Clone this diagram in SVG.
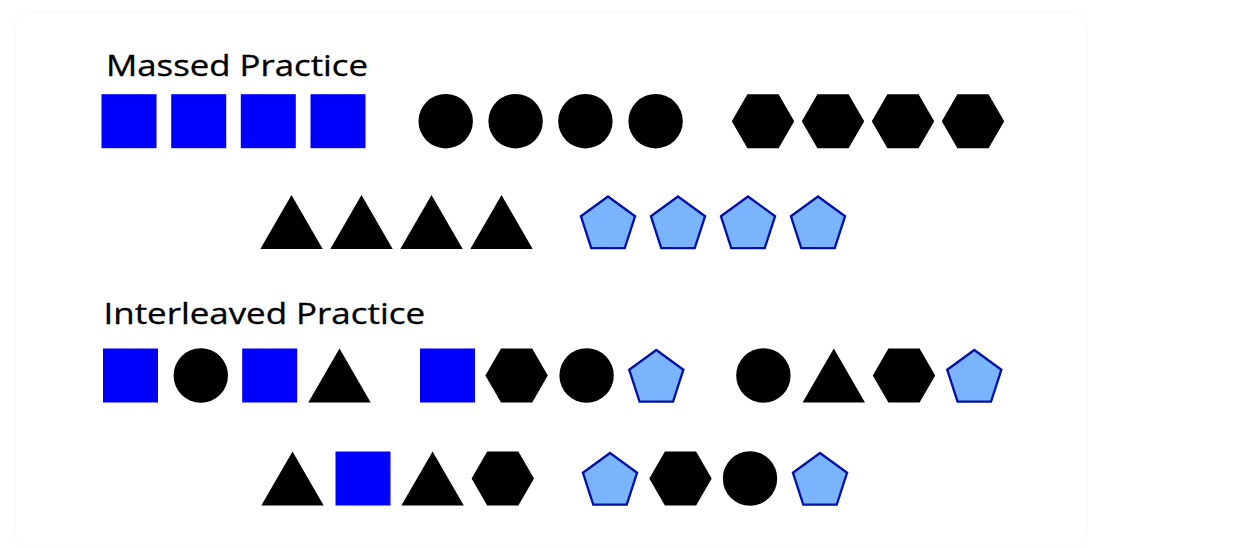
<svg xmlns="http://www.w3.org/2000/svg" xmlns:xlink="http://www.w3.org/1999/xlink" width="1258" height="548" viewBox="0 0 1258 548">
  <style>
    .title { font-family: "Open Sans", "Liberation Sans", sans-serif; font-size: 30px; fill: #000; stroke: #000; stroke-width: 0.35; }
    .sq { fill: #0000ff; }
    .blk { fill: #000000; }
    .pent { fill: #7ab4fc; stroke: #0010a8; stroke-width: 2.3; stroke-linejoin: miter; }
  </style>
  <defs>
    <rect id="square" class="sq" x="-27.5" y="-27" width="55" height="54"/>
    <circle id="circle" class="blk" r="27.2"/>
    <polygon id="hex" class="blk" points="-31.2,0 -15.6,-27 15.6,-27 31.2,0 15.6,27 -15.6,27"/>
    <polygon id="tri" class="blk" points="0,-27 31.2,27 -31.2,27"/>
    <polygon id="pent" class="pent" points="0,-28.5 27.1,-8.8 16.75,23.05 -16.75,23.05 -27.1,-8.8"/>
  </defs>
  <rect x="15.5" y="12.5" width="1072" height="534" rx="12" fill="#ffffff" stroke="#f9f9f9" stroke-width="1"/>

  <g id="title-massed"><text class="title" x="106" y="76" textLength="262" lengthAdjust="spacingAndGlyphs">Massed Practice</text></g>
  <g id="title-interleaved"><text class="title" x="103.5" y="323.5" textLength="321.5" lengthAdjust="spacingAndGlyphs">Interleaved Practice</text></g>

  <g id="connectors"/>

  <!-- Row 1: massed -->
  <g id="m1-sq1"><use xlink:href="#square" x="129" y="121.2"/></g>
  <g id="m1-sq2"><use xlink:href="#square" x="198.7" y="121.2"/></g>
  <g id="m1-sq3"><use xlink:href="#square" x="268.3" y="121.2"/></g>
  <g id="m1-sq4"><use xlink:href="#square" x="338" y="121.2"/></g>
  <g id="m1-c1"><use xlink:href="#circle" x="445.7" y="121.2"/></g>
  <g id="m1-c2"><use xlink:href="#circle" x="515.6" y="121.2"/></g>
  <g id="m1-c3"><use xlink:href="#circle" x="585.4" y="121.2"/></g>
  <g id="m1-c4"><use xlink:href="#circle" x="655.6" y="121.2"/></g>
  <g id="m1-h1"><use xlink:href="#hex" x="763" y="121.2"/></g>
  <g id="m1-h2"><use xlink:href="#hex" x="833" y="121.2"/></g>
  <g id="m1-h3"><use xlink:href="#hex" x="903" y="121.2"/></g>
  <g id="m1-h4"><use xlink:href="#hex" x="973" y="121.2"/></g>

  <!-- Row 2: massed -->
  <g id="m2-t1"><use xlink:href="#tri" x="291.5" y="222"/></g>
  <g id="m2-t2"><use xlink:href="#tri" x="361.5" y="222"/></g>
  <g id="m2-t3"><use xlink:href="#tri" x="431.5" y="222"/></g>
  <g id="m2-t4"><use xlink:href="#tri" x="501.5" y="222"/></g>
  <g id="m2-p1"><use xlink:href="#pent" x="608" y="225"/></g>
  <g id="m2-p2"><use xlink:href="#pent" x="678" y="225"/></g>
  <g id="m2-p3"><use xlink:href="#pent" x="748" y="225"/></g>
  <g id="m2-p4"><use xlink:href="#pent" x="818" y="225"/></g>

  <!-- Row 3: interleaved -->
  <g id="i1-sq1"><use xlink:href="#square" x="130.5" y="375.5"/></g>
  <g id="i1-c1"><use xlink:href="#circle" x="200.8" y="375.5"/></g>
  <g id="i1-sq2"><use xlink:href="#square" x="269.7" y="375.5"/></g>
  <g id="i1-t1"><use xlink:href="#tri" x="339.5" y="375.5"/></g>
  <g id="i1-sq3"><use xlink:href="#square" x="447.5" y="375.5"/></g>
  <g id="i1-h1"><use xlink:href="#hex" x="516.6" y="375.5"/></g>
  <g id="i1-c2"><use xlink:href="#circle" x="586.6" y="375.5"/></g>
  <g id="i1-p1"><use xlink:href="#pent" x="656.3" y="378.5"/></g>
  <g id="i1-c3"><use xlink:href="#circle" x="763.4" y="375.5"/></g>
  <g id="i1-t2"><use xlink:href="#tri" x="833.8" y="375.5"/></g>
  <g id="i1-h2"><use xlink:href="#hex" x="904" y="375.5"/></g>
  <g id="i1-p2"><use xlink:href="#pent" x="974.3" y="378.5"/></g>

  <!-- Row 4: interleaved -->
  <g id="i2-t1"><use xlink:href="#tri" x="292.5" y="478.5"/></g>
  <g id="i2-sq1"><use xlink:href="#square" x="363" y="478.5"/></g>
  <g id="i2-t2"><use xlink:href="#tri" x="432.6" y="478.5"/></g>
  <g id="i2-h1"><use xlink:href="#hex" x="502.8" y="478.5"/></g>
  <g id="i2-p1"><use xlink:href="#pent" x="610" y="481.5"/></g>
  <g id="i2-h2"><use xlink:href="#hex" x="680.5" y="478.5"/></g>
  <g id="i2-c1"><use xlink:href="#circle" x="750" y="478.5"/></g>
  <g id="i2-p2"><use xlink:href="#pent" x="820" y="481.5"/></g>
</svg>
